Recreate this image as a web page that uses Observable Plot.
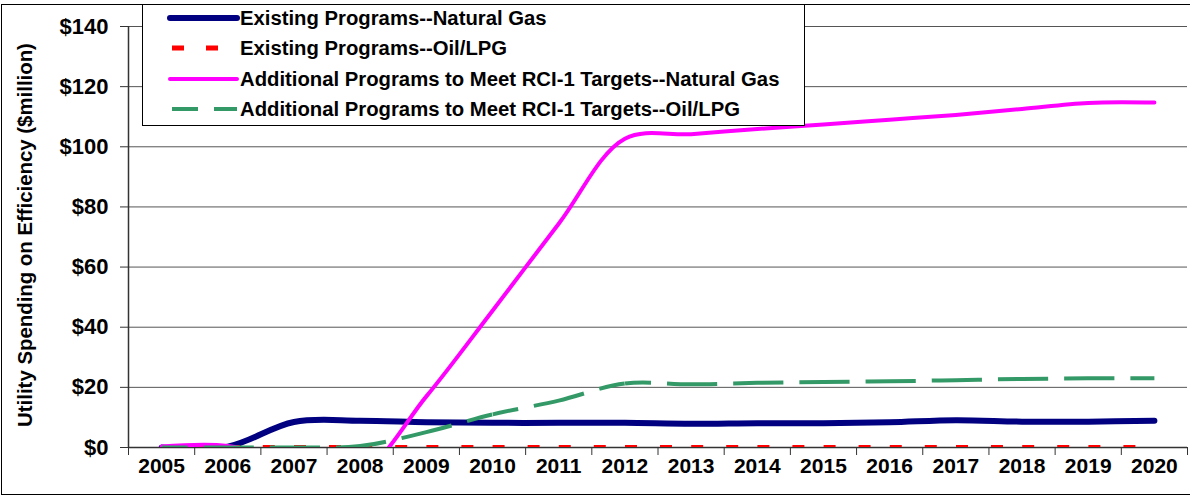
<!DOCTYPE html>
<html><head><meta charset="utf-8">
<script src="https://cdn.jsdelivr.net/npm/d3@7"></script>
<script src="https://cdn.jsdelivr.net/npm/@observablehq/plot@0.6"></script>
<style>body{margin:0;background:#fff}svg{display:block}</style>
</head><body><div id="chart"></div>
<script>
const years = [2005, 2006, 2007, 2008, 2009, 2010, 2011, 2012, 2013, 2014, 2015, 2016, 2017, 2018, 2019, 2020];
const existingNaturalGas = [0, 0.3, 8.5, 8.9, 8.4, 8.2, 8.2, 8.2, 7.9, 8.1, 8.1, 8.4, 9.1, 8.6, 8.6, 8.9];
const existingOilLPG = [0, 0, 0, 0, 0, 0, 0, 0, 0, 0, 0, 0, 0, 0, 0, 0];
const additionalNaturalGas = [0.3, 0.5, -5, -8, 17, 45.5, 74.4, 102.7, 104.2, 105.9, 107.4, 109, 110.6, 112.6, 114.6, 114.7];
const additionalOilLPG = [0, 0, 0, 0.5, 5.1, 11.0, 15.6, 21.3, 21.0, 21.5, 21.8, 22.0, 22.4, 22.8, 23.0, 23.0];
const yTicks = [0, 20, 40, 60, 80, 100, 120, 140];
const seriesNames = [
  "Existing Programs--Natural Gas",
  "Existing Programs--Oil/LPG",
  "Additional Programs to Meet RCI-1 Targets--Natural Gas",
  "Additional Programs to Meet RCI-1 Targets--Oil/LPG"
];
const seriesColors = ["#000080", "#ff0000", "#ff00ff", "#339966"];
const yTitle = "Utility Spending on Efficiency ($million)";

const rows = vals => years.map((year, i) => ({year, value: vals[i]}));
const tickEdges = years.map(y => y - 0.5).concat([years[years.length - 1] + 0.5]);
const FONT = "'Liberation Sans', Arial, sans-serif";

const chart = Plot.plot({
  width: 1190, height: 497,
  marginLeft: 128, marginRight: 3, marginTop: 26, marginBottom: 50,
  style: {fontFamily: FONT, background: "#fff", overflow: "visible"},
  x: {type: "linear", domain: [years[0] - 0.5, years[years.length - 1] + 0.5]},
  y: {domain: [0, 140]},
  marks: [
    Plot.gridY(yTicks, {stroke: "#555", strokeOpacity: 1, strokeWidth: 1}),
    Plot.ruleY([0], {stroke: "#333", strokeWidth: 1.5}),
    Plot.line(rows(existingNaturalGas), {x: "year", y: "value", stroke: seriesColors[0], strokeWidth: 6, curve: "catmull-rom", clip: true}),
    Plot.line(rows(existingOilLPG), {x: "year", y: "value", stroke: seriesColors[1], strokeWidth: 5, strokeLinecap: "butt", clip: true}),
    Plot.line(rows(additionalNaturalGas), {x: "year", y: "value", stroke: seriesColors[2], strokeWidth: 4, curve: "catmull-rom", clip: true}),
    Plot.line(rows(additionalOilLPG), {x: "year", y: "value", stroke: seriesColors[3], strokeWidth: 4, strokeLinecap: "butt", curve: "catmull-rom", clip: true}),
    Plot.ruleX([years[0] - 0.5], {stroke: "#333", strokeWidth: 1.5}),
    Plot.axisY(yTicks, {tickSize: 8, tickPadding: 12, tickFormat: d => "$" + d, fontSize: 22, fontWeight: "bold", label: null, stroke: "#333"}),
    Plot.axisX(tickEdges, {tickSize: 8, tickFormat: () => "", label: null, stroke: "#333"}),
    Plot.axisX(years, {tickSize: 0, tickPadding: 11, tickFormat: d => String(d), fontSize: 21, fontWeight: "bold", label: null})
  ]
});
document.getElementById("chart").appendChild(chart);

// Excel-like dashes that restart at every data point
const xScale = chart.scale("x");
function segmentDash(path, pattern) {
  const total = path.getTotalLength();
  const x0 = path.getPointAtLength(0).x;
  const base = xScale.apply(years[0]);
  const lens = [];
  let l = 0;
  for (const yr of years) {
    const tx = x0 + (xScale.apply(yr) - base);
    while (l < total && path.getPointAtLength(l).x < tx - 0.01) l += 0.2;
    lens.push(Math.min(l, total));
  }
  lens[0] = 0; lens[lens.length - 1] = total;
  const on = [];
  for (let i = 0; i < lens.length - 1; i++) {
    const s = lens[i + 1] - lens[i];
    let pos = 0, k = 0;
    while (pos < s - 1e-6) {
      const end = Math.min(pos + pattern[k % pattern.length], s);
      if (k % 2 === 0) {
        const a = lens[i] + pos, b = lens[i] + end;
        if (on.length && Math.abs(on[on.length - 1][1] - a) < 1e-6) on[on.length - 1][1] = b;
        else on.push([a, b]);
      }
      pos = end; k++;
    }
  }
  const arr = [];
  let cur = 0;
  if (on.length && on[0][0] > 0) arr.push(0);
  for (const [a, b] of on) {
    if (arr.length) arr.push(a - cur);
    arr.push(b - a);
    cur = b;
  }
  arr.push(total + 100);
  path.setAttribute("stroke-dasharray", arr.map(v => v.toFixed(2)).join(","));
}
const linePaths = chart.querySelectorAll('g[aria-label="line"] path');
segmentDash(linePaths[1], [12, 23]);
segmentDash(linePaths[3], [26, 16]);

const svg = d3.select(chart);
// y title, fitted to the reference's length
const title = svg.append("text")
  .attr("transform", "translate(25,235) rotate(-90)")
  .attr("text-anchor", "middle").attr("dominant-baseline", "central")
  .attr("font-family", FONT).attr("font-weight", "bold").attr("font-size", 18)
  .attr("fill", "#000").text(yTitle);
const tl = title.node().getComputedTextLength();
title.attr("font-size", Math.min(21, 18 * 384 / tl));

// outer border
svg.append("rect").attr("x", 1.5).attr("y", 4.5).attr("width", 1195).attr("height", 490)
  .attr("fill", "none").attr("stroke", "#000").attr("stroke-width", 1);

// legend
const lg = svg.append("g");
lg.append("rect").attr("x", 142.5).attr("y", 4.5).attr("width", 662).attr("height", 121)
  .attr("fill", "#fff").attr("stroke", "#000").attr("stroke-width", 1);
const rowY = [18, 48, 79, 109];
const legendDash = [null, "12,22", null, "26,16"];
const legendWidth = [6, 5, 4, 4];
seriesNames.forEach((name, i) => {
  const ln = lg.append("line").attr("x1", i % 2 ? 172 : 170).attr("x2", 237)
    .attr("y1", rowY[i]).attr("y2", rowY[i])
    .attr("stroke", seriesColors[i]).attr("stroke-width", legendWidth[i])
    .attr("stroke-linecap", legendDash[i] ? "butt" : "round");
  if (legendDash[i]) ln.attr("stroke-dasharray", legendDash[i]);
  lg.append("text").attr("x", 240).attr("y", rowY[i])
    .attr("text-anchor", "start").attr("dominant-baseline", "central")
    .attr("font-family", FONT).attr("font-weight", "bold").attr("font-size", 20.3)
    .attr("fill", "#000").text(name);
});
</script></body></html>
